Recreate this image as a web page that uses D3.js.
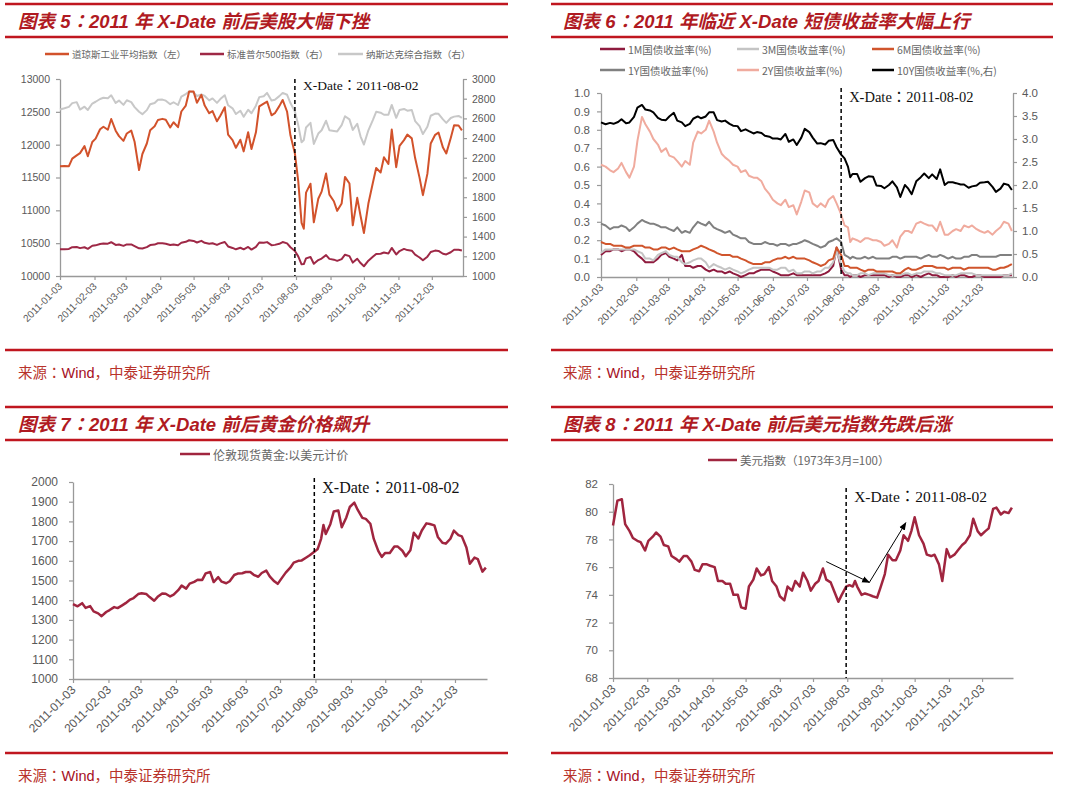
<!DOCTYPE html>
<html><head><meta charset="utf-8">
<script src="https://cdn.jsdelivr.net/npm/d3@7"></script>
<style>body{margin:0;background:#fff}</style>
</head><body>
<svg id="c" width="1080" height="792"></svg>
<script>
// ---------- DATA ----------
const dates = [
"2011-01-03","2011-01-07","2011-01-11","2011-01-14","2011-01-18","2011-01-21","2011-01-25","2011-01-28",
"2011-02-01","2011-02-04","2011-02-08","2011-02-11","2011-02-15","2011-02-18","2011-02-22","2011-02-25",
"2011-03-01","2011-03-04","2011-03-08","2011-03-11","2011-03-15","2011-03-18","2011-03-22","2011-03-25","2011-03-29",
"2011-04-01","2011-04-05","2011-04-08","2011-04-12","2011-04-15","2011-04-19","2011-04-22","2011-04-26","2011-04-29",
"2011-05-03","2011-05-06","2011-05-10","2011-05-13","2011-05-17","2011-05-20","2011-05-24","2011-05-27","2011-05-31",
"2011-06-03","2011-06-07","2011-06-10","2011-06-14","2011-06-17","2011-06-21","2011-06-24","2011-06-28",
"2011-07-01","2011-07-05","2011-07-08","2011-07-12","2011-07-15","2011-07-19","2011-07-22","2011-07-26","2011-07-29",
"2011-08-02","2011-08-05","2011-08-08","2011-08-10","2011-08-12","2011-08-16","2011-08-19","2011-08-23","2011-08-26","2011-08-30",
"2011-09-02","2011-09-06","2011-09-09","2011-09-13","2011-09-16","2011-09-20","2011-09-23","2011-09-27","2011-09-30",
"2011-10-03","2011-10-07","2011-10-11","2011-10-14","2011-10-18","2011-10-21","2011-10-25","2011-10-28",
"2011-11-01","2011-11-04","2011-11-08","2011-11-11","2011-11-15","2011-11-18","2011-11-22","2011-11-25","2011-11-29",
"2011-12-02","2011-12-06","2011-12-09","2011-12-13","2011-12-16","2011-12-20","2011-12-23","2011-12-27","2011-12-30"];

const tickLabels = ["2011-01-03","2011-02-03","2011-03-03","2011-04-03","2011-05-03","2011-06-03",
"2011-07-03","2011-08-03","2011-09-03","2011-10-03","2011-11-03","2011-12-03"];
const xDateStr = "2011-08-02";

// Figure 5
const dowJones = [
11671,11675,11672,11787,11837,11871,11978,11824,
12040,12092,12234,12273,12227,12391,12213,12130,
12058,12170,12214,12044,11613,11858,12018,12221,12280,
12377,12393,12380,12263,12341,12266,12505,12595,12811,
12808,12638,12760,12595,12479,12512,12356,12441,12570,
12152,12070,11952,12076,11898,12190,11934,12188,
12582,12626,12657,12447,12479,12587,12681,12501,12143,
11866,11444,10810,10720,11269,11406,10817,11176,11285,11560,
11240,11139,10992,11105,11509,11408,10772,11190,10913,
10655,11103,11416,11644,11577,11809,11706,12231,
11657,11983,12069,12153,12096,11796,11494,11231,11555,
12019,12150,12184,11955,11867,12103,12294,12292,12218];
const sp500 = [
1271,1272,1275,1293,1295,1283,1292,1276,
1307,1311,1325,1329,1328,1343,1315,1320,
1306,1321,1321,1304,1281,1279,1293,1314,1319,
1332,1332,1328,1314,1320,1312,1337,1347,1363,
1356,1340,1357,1337,1328,1333,1316,1331,1345,
1300,1285,1271,1287,1271,1295,1268,1296,
1340,1337,1344,1313,1316,1327,1345,1331,1292,
1254,1199,1119,1121,1179,1193,1124,1162,1177,1212,
1174,1166,1154,1172,1216,1202,1136,1175,1131,
1099,1155,1195,1224,1226,1238,1229,1285,
1219,1253,1275,1263,1257,1216,1188,1159,1196,
1244,1258,1255,1226,1219,1241,1266,1266,1258];
const nasdaq = [
2691,2703,2717,2755,2765,2690,2719,2686,
2751,2769,2797,2809,2804,2834,2757,2781,
2737,2784,2765,2715,2667,2643,2684,2743,2756,
2789,2791,2780,2744,2764,2736,2820,2847,2873,
2864,2827,2843,2828,2783,2803,2758,2796,2835,
2733,2702,2644,2678,2616,2688,2652,2729,
2816,2825,2859,2781,2790,2826,2859,2840,2756,
2670,2532,2357,2381,2508,2555,2341,2446,2480,2576,
2480,2473,2468,2532,2622,2590,2483,2546,2415,
2335,2479,2583,2667,2658,2637,2638,2737,
2606,2686,2696,2678,2686,2573,2521,2441,2515,
2627,2649,2647,2590,2555,2604,2618,2625,2605];

// Figure 6 (yields, %)
const y1M = [
0.12,0.14,0.14,0.15,0.15,0.14,0.15,0.15,
0.14,0.12,0.10,0.08,0.08,0.08,0.10,0.12,
0.13,0.11,0.10,0.09,0.12,0.06,0.06,0.05,0.06,
0.06,0.04,0.03,0.04,0.03,0.03,0.02,0.03,0.02,
0.01,0.00,0.01,0.02,0.02,0.03,0.04,0.04,0.04,
0.03,0.02,0.01,0.01,0.01,0.02,0.01,0.01,
0.01,0.01,0.01,0.01,0.01,0.02,0.03,0.06,0.16,
0.04,0.01,0.01,0.00,0.01,0.01,0.00,0.01,0.01,0.01,
0.01,0.01,0.01,0.00,0.01,0.00,0.00,0.01,0.01,
0.00,0.01,0.00,0.01,0.02,0.01,0.01,0.00,
0.00,0.00,0.01,0.00,0.01,0.01,0.00,0.00,0.01,
0.01,0.00,0.00,0.00,0.00,0.00,0.01,0.01,0.01];
const y3M = [
0.13,0.15,0.15,0.15,0.15,0.15,0.15,0.15,
0.15,0.14,0.13,0.10,0.10,0.09,0.12,0.13,
0.14,0.12,0.11,0.11,0.08,0.07,0.08,0.09,0.10,
0.10,0.08,0.05,0.07,0.06,0.05,0.04,0.05,0.04,
0.03,0.02,0.03,0.04,0.05,0.05,0.05,0.05,0.05,
0.04,0.04,0.05,0.05,0.03,0.04,0.02,0.02,
0.03,0.03,0.02,0.03,0.03,0.05,0.05,0.08,0.14,
0.07,0.03,0.02,0.02,0.01,0.01,0.02,0.02,0.01,0.02,
0.02,0.02,0.02,0.01,0.01,0.01,0.01,0.02,0.02,
0.01,0.02,0.02,0.03,0.03,0.03,0.02,0.02,
0.01,0.01,0.01,0.01,0.02,0.02,0.02,0.02,0.01,
0.01,0.01,0.01,0.01,0.01,0.01,0.01,0.01,0.02];
const y6M = [
0.19,0.18,0.18,0.17,0.17,0.17,0.16,0.16,
0.17,0.17,0.17,0.16,0.16,0.15,0.15,0.16,
0.16,0.15,0.16,0.15,0.14,0.14,0.14,0.15,0.16,
0.17,0.16,0.15,0.14,0.13,0.12,0.12,0.12,0.11,
0.11,0.10,0.09,0.08,0.07,0.07,0.07,0.08,0.08,
0.09,0.10,0.10,0.11,0.10,0.11,0.10,0.10,
0.10,0.09,0.08,0.07,0.06,0.07,0.09,0.10,0.16,
0.12,0.06,0.06,0.05,0.05,0.05,0.04,0.03,0.04,0.04,
0.03,0.03,0.03,0.03,0.03,0.02,0.02,0.04,0.05,
0.04,0.04,0.05,0.06,0.06,0.06,0.05,0.05,
0.05,0.04,0.05,0.05,0.05,0.04,0.05,0.05,0.05,
0.05,0.05,0.05,0.04,0.04,0.05,0.05,0.06,0.07];
const y1Y = [
0.29,0.28,0.26,0.27,0.27,0.28,0.27,0.25,
0.27,0.29,0.31,0.30,0.29,0.29,0.28,0.27,
0.27,0.26,0.25,0.27,0.24,0.25,0.24,0.27,0.30,
0.29,0.28,0.30,0.27,0.26,0.25,0.24,0.25,0.23,
0.22,0.21,0.21,0.19,0.18,0.18,0.18,0.19,0.18,
0.18,0.17,0.18,0.18,0.17,0.18,0.18,0.19,
0.20,0.19,0.18,0.17,0.16,0.17,0.19,0.20,0.21,
0.19,0.12,0.11,0.10,0.11,0.10,0.10,0.11,0.10,0.11,
0.10,0.10,0.10,0.10,0.11,0.11,0.10,0.11,0.11,
0.11,0.11,0.10,0.11,0.12,0.11,0.11,0.12,
0.11,0.10,0.11,0.10,0.10,0.11,0.11,0.12,0.12,
0.11,0.11,0.11,0.11,0.11,0.12,0.12,0.12,0.12];
const y2Y = [
0.61,0.60,0.58,0.57,0.59,0.62,0.57,0.54,
0.60,0.74,0.87,0.83,0.79,0.75,0.72,0.68,
0.70,0.66,0.65,0.63,0.60,0.63,0.61,0.73,0.79,
0.78,0.80,0.85,0.79,0.73,0.67,0.65,0.63,0.61,
0.60,0.57,0.58,0.55,0.54,0.54,0.52,0.48,0.45,
0.42,0.40,0.39,0.42,0.38,0.39,0.34,0.41,
0.47,0.46,0.40,0.38,0.40,0.38,0.42,0.44,0.40,
0.34,0.28,0.27,0.19,0.21,0.20,0.19,0.21,0.21,0.20,
0.20,0.19,0.17,0.18,0.20,0.16,0.22,0.25,0.25,
0.24,0.29,0.30,0.29,0.28,0.28,0.25,0.30,
0.23,0.23,0.25,0.26,0.25,0.28,0.27,0.28,0.26,
0.25,0.24,0.25,0.23,0.25,0.27,0.30,0.29,0.25];
const y10Y = [
3.36,3.32,3.35,3.33,3.37,3.43,3.34,3.36,
3.48,3.68,3.74,3.64,3.62,3.58,3.46,3.42,
3.41,3.49,3.57,3.40,3.36,3.28,3.33,3.44,3.49,
3.45,3.49,3.58,3.58,3.41,3.38,3.40,3.33,3.29,
3.28,3.17,3.21,3.17,3.12,3.15,3.13,3.07,3.05,
3.01,3.01,2.99,3.11,2.94,2.99,2.87,3.03,
3.22,3.15,3.03,2.90,2.91,2.88,2.96,2.98,2.82,
2.66,2.58,2.40,2.17,2.24,2.24,2.07,2.15,2.19,2.18,
1.99,1.98,1.93,2.00,2.08,1.95,1.74,2.00,1.92,
1.80,2.08,2.17,2.25,2.15,2.23,2.13,2.34,
2.00,2.06,2.06,2.04,2.01,2.01,1.94,1.97,1.99,
2.05,2.06,2.07,1.96,1.85,1.92,2.03,2.00,1.89];

// Figure 7
const goldUSD = [
1380,1369,1385,1361,1370,1343,1333,1319,
1340,1350,1365,1360,1374,1385,1403,1411,
1431,1435,1432,1416,1397,1417,1434,1433,1419,
1428,1451,1474,1459,1484,1493,1504,1503,1536,
1543,1492,1517,1494,1486,1496,1528,1535,1537,
1543,1543,1529,1519,1538,1550,1521,1496,
1483,1516,1540,1565,1591,1600,1602,1617,1628,
1646,1660,1713,1782,1736,1786,1850,1855,1770,1820,
1873,1895,1858,1818,1813,1788,1711,1649,1620,
1640,1640,1673,1672,1651,1623,1654,1742,
1713,1754,1790,1787,1780,1721,1692,1687,1712,
1753,1730,1724,1668,1585,1616,1608,1545,1565];

// Figure 8
const dollarIndex = [
79.0,80.8,80.9,79.1,78.6,78.1,77.9,77.8,
77.2,77.9,78.2,78.5,78.2,77.6,77.5,76.8,
76.6,76.4,76.8,76.8,76.4,75.8,75.7,76.2,76.2,
76.1,76.0,75.0,75.0,74.8,74.8,74.0,74.0,73.1,
73.0,74.6,75.1,75.9,75.4,75.5,76.0,75.0,74.6,
73.9,73.6,74.6,74.3,75.0,74.6,75.6,75.0,
74.3,74.8,75.0,75.9,75.1,74.9,74.3,73.5,74.0,
74.6,74.7,74.6,75.0,74.6,74.0,74.1,74.0,73.9,73.8,
74.5,75.5,76.9,76.5,76.5,77.2,78.3,77.9,78.6,
79.6,78.3,77.7,76.9,76.8,76.9,76.2,75.0,
77.3,76.7,76.9,77.2,77.6,77.8,78.3,79.5,78.6,
78.3,78.6,78.8,80.2,80.3,79.8,80.0,79.9,80.3];
const arrowPath = [["2011-07-15",76.4],["2011-08-23",74.9],["2011-09-25",79.2]];

// ---------- DRAW ----------
const svg = d3.select("#c");
svg.append("rect").attr("width",1080).attr("height",792).attr("fill","#fff");
const parse = d3.timeParse("%Y-%m-%d");
const D = dates.map(parse);
const tickDates = tickLabels.map(parse);
const xDom = [parse("2011-01-03"), parse("2011-12-31")];
const xDay = parse(xDateStr);
const RED = "#C0161F", TRED = "#B01A22";
const SANS = "'Liberation Sans', Arial, 'Noto Sans CJK SC', sans-serif";
const CJK = "'Noto Sans CJK SC', sans-serif";
const JPC = "'Noto Sans CJK JP', sans-serif";   // centred full-width colon
const SERIF = "'Liberation Serif', 'Times New Roman', 'Noto Sans CJK SC', serif";

svg.append("defs").append("marker").attr("id","arr").attr("viewBox","0 0 10 10")
  .attr("refX",9).attr("refY",5).attr("markerWidth",8).attr("markerHeight",8).attr("orient","auto")
  .append("path").attr("d","M0,1 L10,5 L0,9 z").attr("fill","#000");

// writes text, putting full-width colons in a font that centres them
function colonText(sel, str, baseFont) {
  str.split("：").forEach((part, i) => {
    if (i > 0) sel.append("tspan").text("：").attr("font-family", JPC);
    if (part) sel.append("tspan").text(part).attr("font-family", baseFont);
  });
}

function frame(f) {
  [f.top, f.top+33, f.bottom].forEach(y =>
    svg.append("line").attr("x1",f.xa).attr("x2",f.xb).attr("y1",y).attr("y2",y)
      .attr("stroke",RED).attr("stroke-width",2.5));
  const t = svg.append("text").attr("x",f.tx).attr("y",f.top+24)
    .attr("font-weight","bold").attr("font-style","italic")
    .attr("font-size",18.5).attr("fill",TRED);
  colonText(t, f.title, SANS);
  const s = svg.append("text").attr("x",f.tx).attr("y",f.bottom+28)
    .attr("font-size",14.5).attr("fill","#B8322A").attr("font-family",CJK);
  s.append("tspan").text("来源");
  s.append("tspan").text("：").attr("font-family",JPC);
  s.append("tspan").text("Wind").attr("font-family",SANS).attr("fill","#A5101F");
  s.append("tspan").text("，中泰证券研究所");
}

function styleAxis(g, fs) {
  g.select(".domain").attr("stroke","#999").attr("stroke-width",1.3);
  g.selectAll(".tick line").attr("stroke","#999").attr("stroke-width",1.2);
  g.selectAll("text").attr("fill","#595959").attr("font-size",fs).attr("font-family",SANS);
}

function panel(c) {
  const x = d3.scaleTime().domain(xDom).range([c.x0, c.x1]);
  const yL = d3.scaleLinear().domain(c.left.domain).range([c.yB, c.yT]);
  const yR = c.right ? d3.scaleLinear().domain(c.right.domain).range([c.yB, c.yT]) : null;

  const gx = svg.append("g").attr("transform",`translate(0,${c.yB})`)
    .call(d3.axisBottom(x).tickValues(tickDates).tickFormat(d3.timeFormat("%Y-%m-%d"))
      .tickSize(4).tickSizeOuter(0));
  styleAxis(gx, c.xfs);
  gx.selectAll("text").attr("x",-6).attr("y",6).attr("dy","0.35em")
    .attr("transform","rotate(-45)").style("text-anchor","end");

  const gl = svg.append("g").attr("transform",`translate(${c.x0},0)`)
    .call(d3.axisLeft(yL).tickValues(c.left.ticks).tickFormat(c.left.fmt)
      .tickSize(4).tickSizeOuter(0).tickPadding(c.left.pad));
  styleAxis(gl, c.yfs);
  if (yR) {
    const gr = svg.append("g").attr("transform",`translate(${c.x1},0)`)
      .call(d3.axisRight(yR).tickValues(c.right.ticks).tickFormat(c.right.fmt)
        .tickSize(4).tickSizeOuter(0).tickPadding(c.right.pad));
    styleAxis(gr, c.yfs);
  }

  c.series.forEach(s => {
    const y = s.axis === "right" ? yR : yL;
    svg.append("path").datum(s.values)
      .attr("d", d3.line().x((v,i) => x(D[i])).y(v => y(v)))
      .attr("fill","none").attr("stroke",s.color).attr("stroke-width",s.w || 2)
      .attr("stroke-linejoin","round");
  });

  const xd = x(xDay);
  svg.append("line").attr("x1",xd).attr("x2",xd).attr("y1",c.dashTop).attr("y2",c.yB)
    .attr("stroke","#000").attr("stroke-width",1.5).attr("stroke-dasharray","4,3");
  const lab = svg.append("text").attr("x",xd + 8).attr("y",c.labelY)
    .attr("font-size",c.labelFs).attr("fill","#111");
  colonText(lab, "X-Date：" + xDateStr, SERIF);

  c.legend.forEach(l => {
    svg.append("line").attr("x1",l.x1).attr("x2",l.x2).attr("y1",l.y).attr("y2",l.y)
      .attr("stroke",l.color).attr("stroke-width",2.5);
    svg.append("text").attr("x",l.x2 + 3).attr("y",l.y).attr("dominant-baseline","central")
      .text(l.text).attr("font-family",CJK).attr("font-size",c.lfs).attr("fill","#666");
  });
  return {x, yL, yR};
}

// Panel 5
frame({xa:5, xb:508, top:4, bottom:350, tx:18, title:"图表 5：2011 年 X-Date 前后美股大幅下挫"});
const cDow = "#D2522B", cSP = "#9E2846", cNas = "#C8C8C8";
panel({x0:60, x1:463, yT:79, yB:276, xfs:10, yfs:10.5, lfs:9.5, labelFs:13.5, labelY:90, dashTop:79,
  left:{domain:[10000,13000], ticks:d3.range(10000,13001,500), fmt:d3.format("d"), pad:6},
  right:{domain:[1000,3000], ticks:d3.range(1000,3001,200), fmt:d3.format("d"), pad:5},
  series:[{values:nasdaq,color:cNas,axis:"right"},{values:sp500,color:cSP,axis:"right"},{values:dowJones,color:cDow}],
  legend:[{x1:45,x2:69,y:54,color:cDow,text:"道琼斯工业平均指数（左）"},
          {x1:200,x2:224,y:54,color:cSP,text:"标准普尔500指数（右）"},
          {x1:338,x2:363,y:54,color:cNas,text:"纳斯达克综合指数（右）"}]});

// Panel 6
frame({xa:551, xb:1053, top:4, bottom:350, tx:563, title:"图表 6：2011 年临近 X-Date 短债收益率大幅上行"});
const c1M="#8E1B3E", c3M="#C4C4C4", c6M="#D0552C", c1Y="#808080", c2Y="#F0AB9E", c10Y="#000000";
panel({x0:601, x1:1013, yT:93, yB:277, xfs:10.5, yfs:11.5, lfs:10.5, labelFs:14.5, labelY:102, dashTop:88,
  left:{domain:[0,1], ticks:d3.range(0,1.001,0.1), fmt:d3.format(".1f"), pad:7},
  right:{domain:[0,4], ticks:d3.range(0,4.001,0.5), fmt:d3.format(".1f"), pad:5},
  series:[{values:y1M,color:c1M},{values:y3M,color:c3M},{values:y6M,color:c6M},
          {values:y1Y,color:c1Y},{values:y2Y,color:c2Y},{values:y10Y,color:c10Y,axis:"right"}],
  legend:[{x1:600,x2:625,y:49,color:c1M,text:"1M国债收益率(%)"},
          {x1:737,x2:759,y:49,color:c3M,text:"3M国债收益率(%)"},
          {x1:872,x2:894,y:49,color:c6M,text:"6M国债收益率(%)"},
          {x1:600,x2:625,y:70,color:c1Y,text:"1Y国债收益率(%)"},
          {x1:737,x2:759,y:70,color:c2Y,text:"2Y国债收益率(%)"},
          {x1:872,x2:894,y:70,color:c10Y,text:"10Y国债收益率(%,右)"}]});

// Panel 7
frame({xa:5, xb:508, top:407, bottom:753, tx:18, title:"图表 7：2011 年 X-Date 前后黄金价格飙升"});
const cGold = "#A0253F";
panel({x0:73, x1:487, yT:482, yB:679, xfs:12, yfs:12, lfs:12, labelFs:16, labelY:493, dashTop:478,
  left:{domain:[1000,2000], ticks:d3.range(1000,2001,100), fmt:d3.format("d"), pad:11},
  series:[{values:goldUSD,color:cGold,w:2.5}],
  legend:[{x1:180,x2:210,y:454,color:cGold,text:"伦敦现货黄金:以美元计价"}]});

// Panel 8
frame({xa:551, xb:1053, top:407, bottom:753, tx:563, title:"图表 8：2011 年 X-Date 前后美元指数先跌后涨"});
const cDxy = "#A0253F";
const p8 = panel({x0:613, x1:1013, yT:484, yB:678, xfs:12, yfs:11.5, lfs:11.5, labelFs:15.5, labelY:502, dashTop:488,
  left:{domain:[68,82], ticks:d3.range(68,82.001,2), fmt:d3.format("d"), pad:11},
  series:[{values:dollarIndex,color:cDxy,w:2.5}],
  legend:[{x1:708,x2:737,y:460,color:cDxy,text:"美元指数（1973年3月=100）"}]});
for (let i = 0; i < arrowPath.length - 1; i++) {
  const a = arrowPath[i], b = arrowPath[i+1];
  svg.append("line")
    .attr("x1",p8.x(parse(a[0]))).attr("y1",p8.yL(a[1]))
    .attr("x2",p8.x(parse(b[0]))).attr("y2",p8.yL(b[1]))
    .attr("stroke","#000").attr("stroke-width",1).attr("marker-end","url(#arr)");
}
</script>
</body></html>
